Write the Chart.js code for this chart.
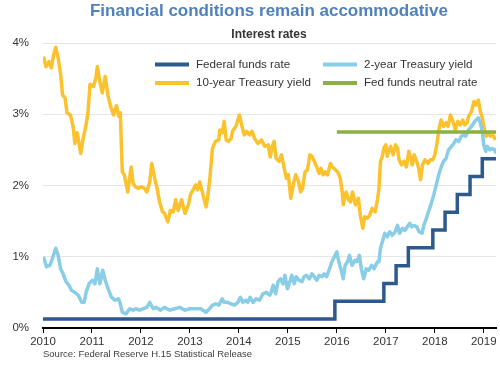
<!DOCTYPE html>
<html>
<head>
<meta charset="utf-8">
<script src="https://cdn.jsdelivr.net/npm/chart.js@4/dist/chart.umd.min.js"></script>
<style>
  body { margin: 0; background: #fff; font-family: "Liberation Sans", Arial, sans-serif; }
  #wrap { position: relative; width: 500px; height: 365px; overflow: hidden; }
  #c { position: absolute; left: 0; top: 0; }
  .title { position: absolute; left: 38px; right: 0; top: 1px; text-align: center;
    font-weight: bold; font-size: 17px; line-height: 20px; color: #4f81bd; }
  .sub { position: absolute; left: 38px; right: 0; top: 27px; text-align: center;
    font-weight: bold; font-size: 12px; line-height: 14px; color: #333; }
  .src { position: absolute; left: 43px; top: 348px; font-size: 9.5px; line-height: 12px; color: #404040; }
</style>
</head>
<body>
<div id="wrap">
  <canvas id="c" width="500" height="365"></canvas>
  <div class="title">Financial conditions remain accommodative</div>
  <div class="sub">Interest rates</div>
  <div class="src">Source: Federal Reserve H.15 Statistical Release</div>
</div>
<script>
/* ===== 데이터 (decimal year, %) ===== */
const yearTicks = [2010, 2011, 2012, 2013, 2014, 2015, 2016, 2017, 2018, 2019];
const xMin = 2010, xMax = 2019.25;

// Federal funds rate: change dates + level (held until next date)
const ffDates = [2010.0, 2015.96, 2016.96, 2017.21, 2017.46, 2017.96, 2018.21, 2018.46, 2018.72, 2018.97, 2019.25];
const ffRates = [0.125, 0.375, 0.625, 0.875, 1.125, 1.375, 1.625, 1.875, 2.125, 2.375, 2.375];

// Fed funds neutral rate
const neutralDates = [2016.0, 2019.25];
const neutralRates = [2.75, 2.75];

// 2-year Treasury yield
const y2Dates = [2010.01, 2010.07, 2010.14, 2010.19, 2010.26, 2010.31, 2010.36, 2010.41, 2010.47, 2010.53,
  2010.58, 2010.65, 2010.72, 2010.79, 2010.84, 2010.88, 2010.94, 2011.01, 2011.06, 2011.11,
  2011.16, 2011.22, 2011.27, 2011.33, 2011.40, 2011.47, 2011.54, 2011.57, 2011.62, 2011.70,
  2011.77, 2011.84, 2011.90, 2011.97, 2012.04, 2012.12, 2012.18, 2012.25, 2012.31, 2012.40,
  2012.48, 2012.59, 2012.69, 2012.79, 2012.90, 2013.00, 2013.10, 2013.22, 2013.33, 2013.40,
  2013.46, 2013.53, 2013.59, 2013.66, 2013.70, 2013.77, 2013.84, 2013.91, 2013.98, 2014.03,
  2014.08, 2014.14, 2014.18, 2014.23, 2014.29, 2014.35, 2014.42, 2014.49, 2014.56, 2014.63,
  2014.66, 2014.70, 2014.75, 2014.80, 2014.85, 2014.90, 2014.94, 2014.99, 2015.04, 2015.08,
  2015.13, 2015.17, 2015.23, 2015.29, 2015.33, 2015.38, 2015.44, 2015.49, 2015.54, 2015.59,
  2015.64, 2015.70, 2015.74, 2015.79, 2015.85, 2015.90, 2015.95, 2016.00, 2016.04, 2016.09,
  2016.13, 2016.17, 2016.22, 2016.26, 2016.31, 2016.37, 2016.41, 2016.46, 2016.50, 2016.55,
  2016.60, 2016.65, 2016.71, 2016.76, 2016.83, 2016.86, 2016.89, 2016.93, 2016.98, 2017.03,
  2017.08, 2017.13, 2017.19, 2017.24, 2017.28, 2017.34, 2017.39, 2017.44, 2017.49, 2017.53,
  2017.58, 2017.63, 2017.68, 2017.74, 2017.78, 2017.82, 2017.87, 2017.93, 2017.98, 2018.02,
  2018.08, 2018.13, 2018.18, 2018.23, 2018.28, 2018.34, 2018.39, 2018.43, 2018.49, 2018.54,
  2018.59, 2018.63, 2018.69, 2018.75, 2018.80, 2018.84, 2018.89, 2018.93, 2018.97, 2019.00,
  2019.04, 2019.07, 2019.12, 2019.17, 2019.23, 2019.25];
const y2Vals = [1.00, 0.86, 0.88, 0.97, 1.12, 1.02, 0.83, 0.76, 0.65, 0.60,
  0.53, 0.50, 0.46, 0.36, 0.36, 0.50, 0.62, 0.67, 0.62, 0.83,
  0.62, 0.81, 0.67, 0.55, 0.43, 0.39, 0.41, 0.36, 0.22, 0.20,
  0.27, 0.25, 0.27, 0.25, 0.27, 0.29, 0.36, 0.27, 0.29, 0.25,
  0.29, 0.25, 0.27, 0.29, 0.25, 0.27, 0.27, 0.27, 0.22, 0.27,
  0.32, 0.34, 0.32, 0.41, 0.36, 0.36, 0.34, 0.32, 0.36, 0.43,
  0.36, 0.39, 0.36, 0.43, 0.36, 0.41, 0.39, 0.48, 0.50, 0.46,
  0.50, 0.60, 0.48, 0.65, 0.69, 0.62, 0.74, 0.55, 0.65, 0.74,
  0.62, 0.72, 0.67, 0.65, 0.72, 0.74, 0.69, 0.76, 0.72, 0.67,
  0.74, 0.72, 0.76, 0.72, 0.83, 0.93, 1.00, 1.07, 0.93, 0.81,
  0.69, 0.88, 0.93, 1.02, 0.88, 0.95, 0.93, 1.02, 0.83, 0.69,
  0.83, 0.81, 0.88, 0.83, 0.93, 0.93, 1.12, 1.21, 1.33, 1.28,
  1.35, 1.30, 1.35, 1.44, 1.33, 1.40, 1.37, 1.42, 1.47, 1.42,
  1.44, 1.42, 1.35, 1.33, 1.45, 1.52, 1.63, 1.75, 1.87, 1.98,
  2.15, 2.26, 2.34, 2.38, 2.50, 2.55, 2.59, 2.64, 2.62, 2.69,
  2.71, 2.69, 2.78, 2.83, 2.88, 2.92, 2.95, 2.88, 2.76, 2.57,
  2.48, 2.55, 2.50, 2.52, 2.50, 2.45];

// 10-year Treasury yield
const y10Dates = [2010.01, 2010.06, 2010.12, 2010.17, 2010.22, 2010.26, 2010.31, 2010.36, 2010.40, 2010.45,
  2010.49, 2010.56, 2010.62, 2010.65, 2010.70, 2010.77, 2010.82, 2010.88, 2010.92, 2010.96,
  2011.03, 2011.08, 2011.11, 2011.16, 2011.21, 2011.27, 2011.33, 2011.38, 2011.44, 2011.50,
  2011.55, 2011.58, 2011.60, 2011.62, 2011.66, 2011.73, 2011.80, 2011.84, 2011.89, 2011.94,
  2012.01, 2012.07, 2012.12, 2012.18, 2012.22, 2012.28, 2012.33, 2012.38, 2012.44, 2012.48,
  2012.55, 2012.60, 2012.66, 2012.71, 2012.76, 2012.83, 2012.90, 2012.97, 2013.01, 2013.08,
  2013.12, 2013.16, 2013.20, 2013.26, 2013.33, 2013.36, 2013.41, 2013.46, 2013.52, 2013.59,
  2013.61, 2013.66, 2013.70, 2013.74, 2013.79, 2013.84, 2013.87, 2013.94, 2014.01, 2014.07,
  2014.11, 2014.16, 2014.22, 2014.27, 2014.32, 2014.39, 2014.46, 2014.53, 2014.60, 2014.64,
  2014.68, 2014.72, 2014.76, 2014.82, 2014.87, 2014.92, 2014.97, 2015.01, 2015.06, 2015.11,
  2015.16, 2015.22, 2015.26, 2015.30, 2015.35, 2015.40, 2015.45, 2015.49, 2015.54, 2015.59,
  2015.64, 2015.68, 2015.72, 2015.76, 2015.81, 2015.87, 2015.91, 2015.97, 2016.02, 2016.07,
  2016.11, 2016.13, 2016.19, 2016.24, 2016.28, 2016.32, 2016.38, 2016.44, 2016.48, 2016.53,
  2016.57, 2016.62, 2016.67, 2016.72, 2016.78, 2016.83, 2016.86, 2016.89, 2016.93, 2016.96,
  2017.00, 2017.03, 2017.06, 2017.10, 2017.15, 2017.20, 2017.24, 2017.27, 2017.32, 2017.37,
  2017.42, 2017.47, 2017.51, 2017.54, 2017.58, 2017.63, 2017.67, 2017.71, 2017.75, 2017.80,
  2017.86, 2017.91, 2017.96, 2018.00, 2018.04, 2018.09, 2018.13, 2018.18, 2018.23, 2018.27,
  2018.32, 2018.37, 2018.42, 2018.47, 2018.52, 2018.57, 2018.61, 2018.66, 2018.69, 2018.75,
  2018.80, 2018.84, 2018.89, 2018.93, 2018.97, 2019.00, 2019.05, 2019.09, 2019.14, 2019.19,
  2019.24];
const y10Vals = [3.81, 3.67, 3.74, 3.65, 3.84, 3.94, 3.79, 3.56, 3.27, 3.23,
  3.02, 2.99, 2.81, 2.59, 2.74, 2.45, 2.66, 2.85, 3.04, 3.42,
  3.39, 3.51, 3.67, 3.46, 3.30, 3.53, 3.25, 3.11, 2.99, 3.12,
  2.97, 3.02, 2.55, 2.19, 2.15, 1.91, 2.26, 2.03, 1.98, 1.96,
  1.98, 1.96, 1.91, 2.05, 2.31, 2.10, 1.96, 1.77, 1.63, 1.61,
  1.49, 1.65, 1.63, 1.80, 1.65, 1.80, 1.61, 1.73, 1.87, 1.96,
  2.01, 1.94, 2.05, 1.89, 1.70, 1.82, 2.12, 2.52, 2.62, 2.64,
  2.78, 2.74, 2.90, 2.64, 2.62, 2.66, 2.76, 2.83, 2.99, 2.81,
  2.71, 2.76, 2.71, 2.76, 2.66, 2.59, 2.64, 2.55, 2.57, 2.40,
  2.55, 2.62, 2.38, 2.34, 2.43, 2.26, 2.10, 2.15, 1.82, 2.01,
  2.15, 2.05, 1.91, 1.96, 2.19, 2.22, 2.43, 2.41, 2.34, 2.26,
  2.17, 2.24, 2.15, 2.19, 2.15, 2.31, 2.26, 2.22, 2.19, 2.10,
  1.91, 1.73, 1.91, 1.80, 1.77, 1.91, 1.73, 1.82, 1.58, 1.40,
  1.56, 1.54, 1.58, 1.68, 1.63, 1.80, 1.96, 2.34, 2.41, 2.52,
  2.57, 2.41, 2.48, 2.55, 2.43, 2.57, 2.52, 2.36, 2.29, 2.34,
  2.26, 2.48, 2.38, 2.29, 2.43, 2.34, 2.24, 2.08, 2.29, 2.36,
  2.31, 2.36, 2.36, 2.43, 2.57, 2.81, 2.92, 2.83, 2.88, 2.83,
  2.99, 2.90, 2.78, 2.90, 2.85, 2.92, 2.85, 2.88, 2.97, 3.04,
  3.18, 3.13, 3.20, 3.04, 2.95, 2.83, 2.69, 2.74, 2.69, 2.71,
  2.64];

const C = { ff: "#2c5a8c", y2: "#89cde6", y10: "#fcc22d", neutral: "#8bb143", text: "#333333" };
const pts = (xs, ys) => xs.map((x, i) => ({ x, y: ys[i] }));

// 범례 (plot 안쪽 2열)
const legendGrid = {
  id: "legendGrid",
  afterDatasetsDraw(chart) {
    const ctx = chart.ctx;
    const cols = [155, 323], rows = [64.5, 83];
    const order = ["Federal funds rate", "2-year Treasury yield", "10-year Treasury yield", "Fed funds neutral rate"];
    ctx.save();
    ctx.font = "11.6px 'Liberation Sans', Arial, sans-serif";
    ctx.textBaseline = "middle";
    order.forEach((lbl, i) => {
      const ds = chart.data.datasets.find(d => d.label === lbl);
      const x = cols[i % 2], y = rows[Math.floor(i / 2)];
      ctx.strokeStyle = ds.borderColor; ctx.lineWidth = 4;
      ctx.beginPath(); ctx.moveTo(x, y); ctx.lineTo(x + 34, y); ctx.stroke();
      ctx.fillStyle = C.text;
      ctx.fillText(lbl, x + 41, y);
    });
    ctx.restore();
  }
};

const line = (label, data, color, order, extra) => Object.assign({
  label, data, borderColor: color, backgroundColor: color, borderWidth: 3.5,
  pointRadius: 0, tension: 0, fill: false, order, borderJoinStyle: "round"
}, extra || {});

new Chart(document.getElementById("c"), {
  type: "line",
  data: { datasets: [
    line("Federal funds rate", pts(ffDates, ffRates), C.ff, 2, { stepped: "before", borderJoinStyle: "miter" }),
    line("2-year Treasury yield", pts(y2Dates, y2Vals), C.y2, 3),
    line("10-year Treasury yield", pts(y10Dates, y10Vals), C.y10, 4),
    line("Fed funds neutral rate", pts(neutralDates, neutralRates), C.neutral, 1),
  ]},
  options: {
    responsive: false, animation: false, devicePixelRatio: 1,
    layout: { padding: { top: 43, right: 4, bottom: 15, left: 0 } },
    plugins: { legend: { display: false }, tooltip: { enabled: false }, title: { display: false } },
    scales: {
      x: {
        type: "linear", min: xMin, max: xMax,
        afterBuildTicks: s => { s.ticks = yearTicks.map(v => ({ value: v })); },
        afterFit: s => { s.height = 22; },
        ticks: { callback: v => String(v), color: C.text, font: { size: 11.5, family: "'Liberation Sans', Arial" }, padding: 2, maxRotation: 0, autoSkip: false },
        grid: { drawOnChartArea: false, drawTicks: true, tickLength: 5, color: "#000", lineWidth: 1 },
        border: { display: true, color: "#000", width: 2 }
      },
      y: {
        min: 0, max: 4,
        afterFit: s => { s.width = 43; },
        ticks: { stepSize: 1, callback: v => v + "%", color: C.text, font: { size: 11.5, family: "'Liberation Sans', Arial" }, padding: 14 },
        grid: { color: "#e6e6e6", lineWidth: 1, drawTicks: false },
        border: { display: false }
      }
    }
  },
  plugins: [legendGrid]
});
</script>
</body>
</html>
